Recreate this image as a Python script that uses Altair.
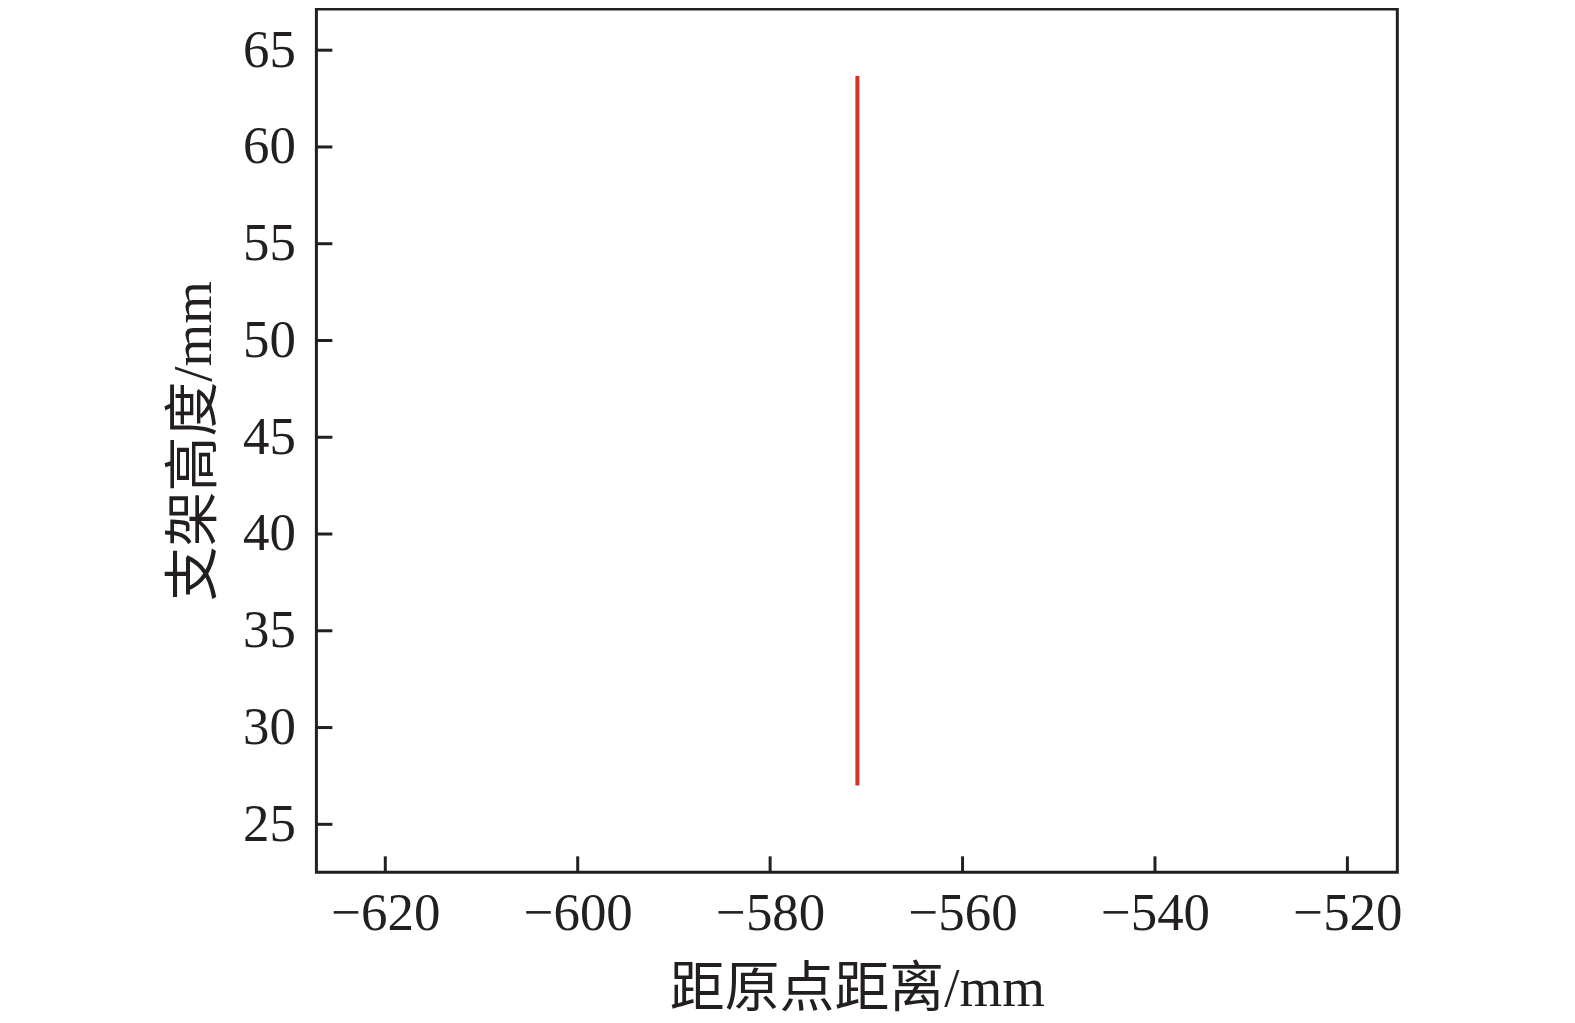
import altair as alt
import pandas as pd

# data
line_x = [-570.93, -570.93]
line_y = [27.0, 63.67]
x_ticks = [-620, -600, -580, -560, -540, -520]
y_ticks = [25, 30, 35, 40, 45, 50, 55, 60, 65]

W, H = 1083, 865
XDOM = [-627.16, -514.81]
YDOM = [22.52, 67.13]
INK = "#231f20"
FONT = "Liberation Serif, Times New Roman, Noto Sans CJK SC"

df = pd.DataFrame({"x": line_x, "y": line_y})
xt = pd.DataFrame({"v": x_ticks})
yt = pd.DataFrame({"v": y_ticks})

xs = alt.Scale(domain=XDOM, nice=False, zero=False)
ys = alt.Scale(domain=YDOM, nice=False, zero=False)

xaxis = alt.Axis(values=x_ticks, ticks=False, domain=False, grid=False,
                 labelFontSize=53, labelFont=FONT, labelColor=INK, labelPadding=15,
                 title="距原点距离/mm", titleFontSize=55, titleFont=FONT,
                 titleColor=INK, titleFontWeight="normal", titlePadding=22,
                 labelExpr="replace(datum.label, '-', '\u2212')")
yaxis = alt.Axis(values=y_ticks, ticks=False, domain=False, grid=False,
                 labelFontSize=53, labelFont=FONT, labelColor=INK, labelPadding=21,
                 title="支架高度/mm", titleFontSize=55, titleFont=FONT,
                 titleColor=INK, titleFontWeight="normal", titlePadding=20)

line = alt.Chart(df).mark_line(color="#d9302e", strokeWidth=4, strokeCap="butt").encode(
    x=alt.X("x:Q", scale=xs, axis=xaxis),
    y=alt.Y("y:Q", scale=ys, axis=yaxis),
)

xtick = alt.Chart(xt).mark_rule(color=INK, strokeWidth=3).encode(
    x=alt.X("v:Q", scale=xs),
    y=alt.value(H),
    y2=alt.value(H - 16),
)
ytick = alt.Chart(yt).mark_rule(color=INK, strokeWidth=3).encode(
    y=alt.Y("v:Q", scale=ys),
    x=alt.value(0),
    x2=alt.value(16),
)

chart = alt.layer(line, xtick, ytick).properties(
    width=W, height=H,
    autosize=alt.AutoSizeParams(type="none"),
    padding={"left": 309, "top": 0, "right": 170, "bottom": 150},
).configure(background="white").configure_view(stroke=INK, strokeWidth=3)

chart.save("out.html", embed_options={"renderer": "svg", "actions": False})
